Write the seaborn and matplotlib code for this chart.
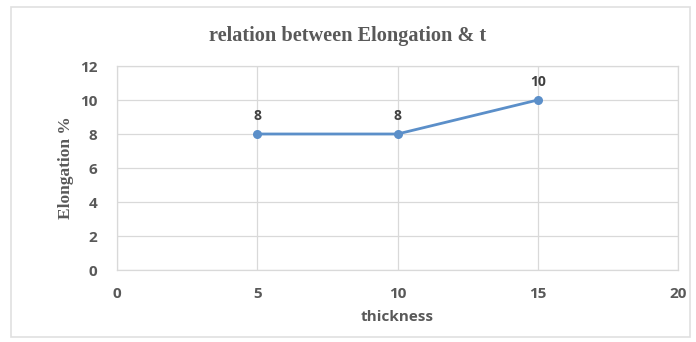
import matplotlib
matplotlib.use("Agg")
import matplotlib.pyplot as plt
import seaborn as sns
import pandas as pd
from matplotlib.patches import Rectangle

thickness = [5, 10, 15]
elongation = [8, 8, 10]
x_ticks = [0, 5, 10, 15, 20]
y_ticks = [0, 2, 4, 6, 8, 10, 12]

df = pd.DataFrame({"thickness": thickness, "elongation": elongation})

sns.set_theme(style="white")
fig = plt.figure(figsize=(6.96, 3.42), dpi=100)
fig.patch.set_facecolor("white")
ax = fig.add_axes([117 / 696, 72 / 342, 561 / 696, 204 / 342])

# light chart frame around the whole figure
fig.patches.append(Rectangle((11 / 696, 5 / 342), 679 / 696, 330 / 342,
                             transform=fig.transFigure, fill=False,
                             edgecolor="#e0e0e0", linewidth=1.2))

sns.lineplot(data=df, x="thickness", y="elongation", ax=ax, color="#5b8fc9",
             linewidth=2, marker="o", markersize=6.5, markeredgewidth=0)

ax.set_xlim(0, 20)
ax.set_ylim(0, 12)
ax.set_xticks(x_ticks)
ax.set_yticks(y_ticks)
ax.grid(True, color="#d9d9d9", linewidth=0.9)
ax.set_axisbelow(True)
for s in ax.spines.values():
    s.set_color("#d9d9d9")
    s.set_linewidth(0.9)
ax.tick_params(axis="both", length=0, labelsize=11, labelcolor="#595959")
ax.tick_params(axis="y", pad=14)
ax.tick_params(axis="x", pad=12)
for lbl in ax.get_xticklabels() + ax.get_yticklabels():
    lbl.set_fontweight("bold")
    lbl.set_family("Open Sans")

for x, y in zip(thickness, elongation):
    ax.annotate(f"{y}", (x, y), xytext=(0, 8), textcoords="offset points",
                ha="center", va="bottom", fontsize=10, fontweight="bold",
                color="#404040", family="Open Sans")

ax.set_xlabel("thickness", fontsize=11, fontweight="bold", color="#595959",
              family="Open Sans", labelpad=7)
ax.set_ylabel("Elongation %", fontsize=12.5, fontweight="bold", color="#595959",
              family="Liberation Serif", labelpad=4)
fig.text(0.5, 1 - 36 / 342, "relation between Elongation & t", ha="center",
         va="center", fontsize=14.6, fontweight="bold", color="#595959",
         family="Liberation Serif")

fig.savefig("out.png", dpi=100, facecolor="white")
